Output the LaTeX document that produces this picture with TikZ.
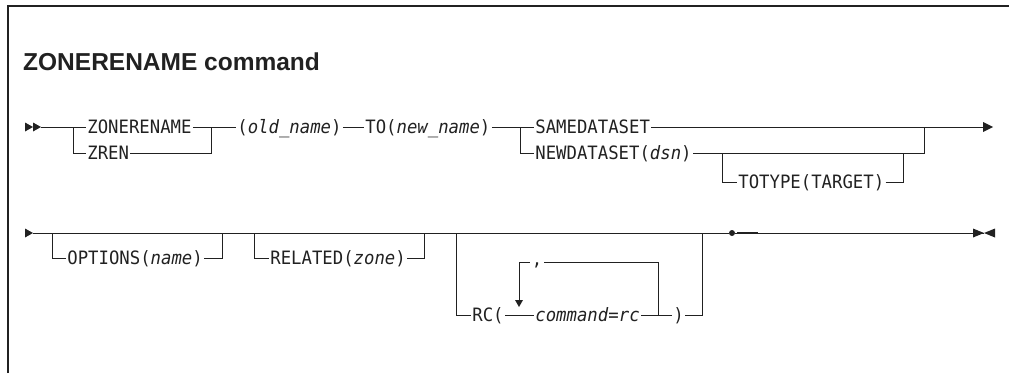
\documentclass[tikz,border=0pt]{standalone}
\usepackage{fontspec}
\setmainfont{Liberation Sans}
\newfontfamily\rrfont[FakeStretch=0.94]{DejaVu Sans Mono}
\usetikzlibrary{calc}
\definecolor{ink}{rgb}{0.13,0.13,0.13}
\begin{document}
\begin{tikzpicture}[x=1pt,y=-1pt,
  rail/.style={draw=ink,line width=0.9pt},
  lbl/.style={inner xsep=1.2pt,inner ysep=0pt,text height=13.4pt,text depth=0pt,anchor=west,
    text=ink,font=\rrfont\fontsize{18.4}{18.4}\selectfont},
  tri/.style={fill=ink,draw=none},
]
\useasboundingbox (0,0) rectangle (1009,373);
% frame
\draw[ink,line width=1.6pt] (8,373) -- (8,6) -- (1009,6);
% title
\node[anchor=base west,inner sep=0pt,text=ink,font=\bfseries\fontsize{24.5}{24.5}\selectfont] (title) at (23,70) {ZONERENAME command};

% ---------- row 1 ----------
\coordinate (s1) at (41,127);
\fill[tri] (25,122.5) -- (33,127) -- (25,131.5) -- cycle;
\fill[tri] (33,122.5) -- (41,127) -- (33,131.5) -- cycle;
\coordinate (b1) at (73,127);
\node[lbl] (zon) at (86,127) {ZONERENAME};
\node[lbl] (zren) at (86,153) {ZREN};
\coordinate (j1) at (211,127);
\node[lbl] (old) at (236,127) {(\textit{old\_name})};
\node[lbl] (to) at (364,127) {TO(\textit{new\_name})};
\coordinate (b2) at (520,127);
\node[lbl] (same) at (534,127) {SAMEDATASET};
\node[lbl] (newd) at (534,153) {NEWDATASET(\textit{dsn})};
\coordinate (b3) at (722,153);
\node[lbl] (tot) at (737,182) {TOTYPE(TARGET)};
\coordinate (j3) at (903,153);
\coordinate (j2) at (924,127);
\coordinate (e1) at (984,127);

\draw[rail] (s1) -- (zon.west);
\draw[rail] (b1) |- (zren.west);
\draw[rail] (zon.east) -- (j1);
\draw[rail] (zren.east) -| (j1);
\draw[rail] (j1) -- (old.west);
\draw[rail] (old.east) -- (to.west);
\draw[rail] (to.east) -- (same.west);
\draw[rail] (b2) |- (newd.west);
\draw[rail] (same.east) -- (e1);
\draw[rail] (newd.east) -| (j2);
\draw[rail] (b3) |- (tot.west);
\draw[rail] (tot.east) -| (j3);
\fill[tri] (983,122) -- (993,127) -- (983,132) -- cycle;

% ---------- row 2 ----------
\coordinate (s2) at (33,233);
\fill[tri] (25,228.5) -- (33,233) -- (25,237.5) -- cycle;
\coordinate (ob) at (52,233);
\node[lbl] (opt) at (66,258) {OPTIONS(\textit{name})};
\coordinate (oj) at (222,233);
\coordinate (rb) at (254,233);
\node[lbl] (rel) at (269,258) {RELATED(\textit{zone})};
\coordinate (rj) at (424,233);
\coordinate (cb) at (456,233);
\node[lbl] (rc) at (471,315) {RC(};
\coordinate (lp) at (519,315);
\node[lbl] (cmd) at (534,315) {\textit{command}=\textit{rc}};
\coordinate (lr) at (658,315);
\node[lbl] (cp) at (672,315) {)};
\coordinate (cj) at (702,233);
\node[anchor=base,inner sep=0pt,text=ink,font=\rrfont\fontsize{18.4}{18.4}\selectfont] (comma) at (537,265) {,};
\node[circle,fill=ink,inner sep=0pt,minimum size=6pt] (dot) at (732,233) {};
\coordinate (e2) at (984,233);

\draw[rail] (s2) -- (dot.west);
\draw[rail] (ob) |- (opt.west);
\draw[rail] (opt.east) -| (oj);
\draw[rail] (rb) |- (rel.west);
\draw[rail] (rel.east) -| (rj);
\draw[rail] (cb) |- (rc.west);
\draw[rail] (rc.east) -- (cmd.west);
\draw[rail] (cmd.east) -- (cp.west);
\draw[rail] (cp.east) -| (cj);
\draw[rail] (lr) |- ($(comma.north east)+(2,0)$);
\draw[rail] ($(comma.north west)+(-2,0)$) -| (519,300);
\fill[tri] (515,300) -- (523,300) -- (519,307) -- cycle;
\draw[rail] (dot.east) -- (e2);
\draw[ink,line width=2.2pt] (737,233) -- (758,233);
\fill[tri] (973,228.5) -- (984,233) -- (973,237.5) -- cycle;
\fill[tri] (995,228.5) -- (984,233) -- (995,237.5) -- cycle;
\end{tikzpicture}
\end{document}
